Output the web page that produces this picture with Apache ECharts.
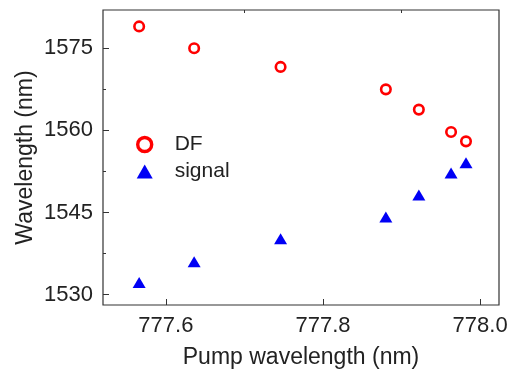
<!DOCTYPE html>
<html>
<head>
<meta charset="utf-8">
<script src="https://cdn.jsdelivr.net/npm/echarts@6/dist/echarts.min.js"></script>
<style>
  html, body { margin: 0; padding: 0; background: #fff; }
  #chart { width: 516px; height: 371px; }
</style>
</head>
<body>
<div id="chart"></div>
<script>
// pump wavelength (nm)
var pump = [777.566, 777.636, 777.746, 777.880, 777.922, 777.963, 777.982];
// DF wavelength (nm)
var dfVals = [1579.0, 1575.0, 1571.6, 1567.5, 1563.8, 1559.7, 1558.0];
// signal wavelength (nm)
var signalVals = [1532.2, 1536.0, 1540.2, 1544.2, 1548.2, 1552.2, 1554.1];

var xMajor = [777.6, 777.8, 778.0];
var xMinor = [777.7, 777.9];
var yMajor = [1530, 1545, 1560, 1575];
var yMinor = [1537.5, 1552.5, 1567.5];

var font = 'Liberation Sans, Arial, sans-serif';
var ink = '#222';

function pairs(xs, ys) {
    return xs.map(function (x, i) { return [x, ys[i]]; });
}

var el = document.getElementById('chart');
var chart = echarts.init(el);

var xBase = { type: 'value', min: 777.52, max: 778.024, gridIndex: 0 };
var yBase = { type: 'value', min: 1528.1, max: 1582, gridIndex: 0 };

var option = {
    animation: false,
    grid: {
        left: 103, right: 17, top: 10, bottom: 66,
        outerBoundsMode: 'none',
        containLabel: false,
        show: true, borderColor: '#333', borderWidth: 1.2, backgroundColor: 'transparent'
    },
    legend: {
        orient: 'vertical',
        left: 131, top: 129,
        itemWidth: 16, itemHeight: 14, itemGap: 6,
        textStyle: { fontFamily: font, fontSize: 21, color: ink, padding: [0, 0, 0, 17] },
        data: [
            { name: 'DF', itemStyle: { borderWidth: 3.4 } },
            { name: 'signal' }
        ]
    },
    xAxis: [
        Object.assign({}, xBase, {
            name: 'Pump wavelength (nm)',
            nameLocation: 'middle', nameGap: 41,
            nameTextStyle: { fontFamily: font, fontSize: 23, color: ink },
            axisLine: { show: false },
            splitLine: { show: false },
            axisTick: { inside: true, length: 6, customValues: xMajor, lineStyle: { color: '#333' } },
            axisLabel: {
                customValues: xMajor, margin: 10,
                fontFamily: font, fontSize: 22, color: ink,
                formatter: function (v) { return v.toFixed(1); }
            }
        }),
        Object.assign({}, xBase, {
            axisLine: { show: false },
            splitLine: { show: false },
            axisTick: { inside: true, length: 3, customValues: xMinor, lineStyle: { color: '#333' } },
            axisLabel: { show: false }
        })
    ],
    yAxis: [
        Object.assign({}, yBase, {
            name: 'Wavelength (nm)',
            nameLocation: 'middle', nameGap: 66, nameRotate: 90,
            nameMoveOverlap: false,
            nameTextStyle: { fontFamily: font, fontSize: 23, color: ink },
            axisLine: { show: false },
            splitLine: { show: false },
            axisTick: { inside: true, length: 6, customValues: yMajor, lineStyle: { color: '#333' } },
            axisLabel: {
                customValues: yMajor, margin: 10,
                fontFamily: font, fontSize: 22, color: ink,
                formatter: function (v) { return String(v); }
            }
        }),
        Object.assign({}, yBase, {
            position: 'left',
            axisLine: { show: false },
            splitLine: { show: false },
            axisTick: { inside: true, length: 3, customValues: yMinor, lineStyle: { color: '#333' } },
            axisLabel: { show: false }
        })
    ],
    series: [
        {
            name: 'DF',
            type: 'scatter',
            xAxisIndex: 0, yAxisIndex: 0,
            symbol: 'circle',
            symbolSize: 9.5,
            itemStyle: { color: '#fff', borderColor: '#f00', borderWidth: 2.6, opacity: 1 },
            data: pairs(pump, dfVals)
        },
        {
            name: 'signal',
            type: 'scatter',
            xAxisIndex: 0, yAxisIndex: 0,
            symbol: 'triangle',
            symbolSize: [13, 11],
            itemStyle: { color: '#0000f5', opacity: 1 },
            data: pairs(pump, signalVals)
        }
    ]
};

chart.setOption(option);
</script>
</body>
</html>
